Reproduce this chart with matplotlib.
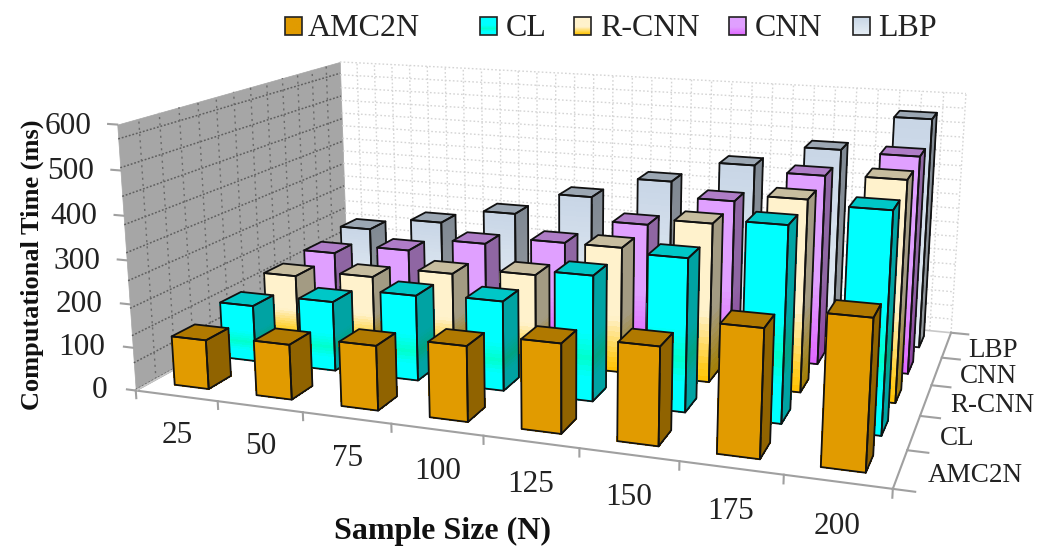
import numpy as np
import matplotlib
matplotlib.use("Agg")
import matplotlib.pyplot as plt
from matplotlib.colors import LinearSegmentedColormap, to_rgb
from matplotlib.patches import Rectangle
from mpl_toolkits.mplot3d import proj3d
from mpl_toolkits.mplot3d.art3d import Poly3DCollection

plt.rcParams['font.family'] = ['Liberation Serif', 'DejaVu Serif']

# ================= data =================
sample_sizes = ['25', '50', '75', '100', '125', '150', '175', '200']
methods = ['AMC2N', 'CL', 'R-CNN', 'CNN', 'LBP']
amc2n = [114, 126, 146, 168, 196, 212, 272, 314]
cl = [135, 165, 200, 207, 285, 342, 430, 477]
rcnn = [153, 170, 197, 213, 296, 369, 439, 497]
cnn = [160, 185, 220, 240, 302, 375, 450, 508]
lbp = [175, 210, 250, 310, 365, 420, 472, 558]
values = [amc2n, cl, rcnn, cnn, lbp]
z_ticks = [0, 100, 200, 300, 400, 500, 600]

# gradients run from the foot of the bar (0) to its top (1)
gradients = [
    [(0, '#E19B00'), (1, '#E19B00')],
    [(0, '#00FFFF'), (0.2, '#00FFFF'), (0.35, '#00FFCC'), (0.55, '#00FFFF'), (1, '#00FFFF')],
    [(0, '#FFC000'), (0.1, '#FFCC20'), (0.45, '#FFF2CC'), (1, '#FFF2CC')],
    [(0, '#E066FF'), (0.45, '#E0A0FF'), (1, '#E0A0FF')],
    [(0, '#E6EEF5'), (1, '#C8D6E6')],
]
cmaps = [LinearSegmentedColormap.from_list(m, g) for m, g in zip(methods, gradients)]

W, H = 1047, 546
S = 700.0
BAR_W, BAR_D = 0.42, 0.46
N_STRIPS = 24


def shade(rgb, k):
    return tuple(c * k for c in to_rgb(rgb))


def add_poly(ax, verts, fc, ec, lw, order, smooth=True):
    coll = Poly3DCollection(verts, facecolors=fc, edgecolors=ec, linewidths=lw, zorder=order,
                            antialiaseds=smooth)
    ax.add_collection3d(coll, autolim=False)
    coll.set_clip_on(False)


def add_bar(ax, x0, y0, h, cmap, order):
    x1, y1 = x0 + BAR_W, y0 + BAR_D
    zs = np.linspace(0, h, N_STRIPS + 1)
    fronts, sides, fc, sc = [], [], [], []
    for i in range(N_STRIPS):
        z0, z1 = zs[i], zs[i + 1]
        col = cmap((i + 0.5) / N_STRIPS)[:3]
        fronts.append([(x0, y0, z0), (x1, y0, z0), (x1, y0, z1), (x0, y0, z1)])
        sides.append([(x1, y0, z0), (x1, y1, z0), (x1, y1, z1), (x1, y0, z1)])
        fc.append(col)
        sc.append(shade(col, 0.64))
    top = [(x0, y0, h), (x1, y0, h), (x1, y1, h), (x0, y1, h)]
    # strips are left aliased so no seams show between them
    add_poly(ax, sides, sc, sc, 0.4, order, smooth=False)
    add_poly(ax, fronts, fc, fc, 0.4, order + 0.1, smooth=False)
    add_poly(ax, [top], [shade(cmap(1.0), 0.78)], 'none', 0, order + 0.2)
    # outline of the three visible faces
    outline = [[(x0, y0, 0), (x1, y0, 0), (x1, y0, h), (x0, y0, h)],
               [(x1, y0, 0), (x1, y1, 0), (x1, y1, h), (x1, y0, h)], top]
    add_poly(ax, outline, (0, 0, 0, 0), '#111111', 1.3, order + 0.3)


def line3d(ax, xs, ys, zs, **kw):
    ax.plot(xs, ys, zs, clip_on=False, **kw)


def label3d(ax, x, y, z, s, **kw):
    # plain 2D text anchored at the projected point
    px, py, _ = proj3d.proj_transform(x, y, z, ax.get_proj())
    ax.text2D(px, py, s, transform=ax.transData, zorder=60, **kw)


fig = plt.figure(figsize=(W / 100, H / 100), dpi=100)
ax = fig.add_axes([(556.573 - S / 2) / W, 1 - (246.068 + S / 2) / H, S / W, S / H], projection='3d')
ax.computed_zorder = False
ax.set_xlim(0, 8, view_margin=0)
ax.set_ylim(0, 5, view_margin=0)
ax.set_zlim(0, 600, view_margin=0)
ax.view_init(14.1168, -70.8002, -0.0177)
ax.set_proj_type('persp', focal_length=0.4192)
ax.set_box_aspect((1, 0.6192, 0.3595), zoom=1.2317)
ax.set_axis_off()
ax.apply_aspect()

# --- walls and their dotted grids ---
left_wall = [(0, 0, 0), (0, 5, 0), (0, 5, 600), (0, 0, 600)]
add_poly(ax, [left_wall], '#A6A6A6', '#A6A6A6', 0.5, 1)
for z in np.arange(569, 0, -63):
    line3d(ax, [0, 0], [0, 5], [z, z], color='#5F5F5F', lw=1.1, ls=(0, (1.2, 1.2)), zorder=2)
for y in np.linspace(0, 5, 14)[1:-1]:
    line3d(ax, [0, 0], [y, y], [0, 600], color='#6A6A6A', lw=1.0, ls=(0, (1.5, 3)), zorder=2)
for z in np.linspace(0, 600, 18)[1:]:
    line3d(ax, [0, 8], [5, 5], [z, z], color='#D4D4D4', lw=1.0, ls=(0, (1.2, 1.6)), zorder=2)
for x in np.linspace(0, 8, 33)[1:]:
    line3d(ax, [x, x], [5, 5], [0, 600], color='#D4D4D4', lw=1.0, ls=(0, (1.2, 1.6)), zorder=2)

# --- axis lines, ticks, tick labels ---
axis_col = '#A0A0A0'
text_col = '#222222'
line3d(ax, [0, 8], [0, 0], [0, 0], color=axis_col, lw=1.5, zorder=3)
line3d(ax, [8, 8], [0, 5], [0, 0], color=axis_col, lw=1.5, zorder=3)
line3d(ax, [0, 0], [0, 5], [0, 0], color='#C8C8C8', lw=1.2, zorder=3)
line3d(ax, [0, 8], [5, 5], [0, 0], color='#C8C8C8', lw=1.2, zorder=3)
for z in z_ticks:
    line3d(ax, [-0.11, 0], [0, 0], [z, z], color=axis_col, lw=1.5, zorder=3)
    label3d(ax, -0.35 + 0.04 * z / 600, 0, z, str(z), ha='right', va='center_baseline', fontsize=22.5, color=text_col)
for i in range(len(sample_sizes) + 1):
    line3d(ax, [i, i], [0, 0], [0, -18], color=axis_col, lw=1.5, zorder=3)
for i, lab in enumerate(sample_sizes):
    label3d(ax, i + 0.48 + 0.005 * i, 0, -85, lab, ha='center', va='center_baseline', fontsize=22.5, color=text_col)
for j, lab in enumerate(methods):
    line3d(ax, [8, 8.2], [j, j], [0, 0], color=axis_col, lw=1.5, zorder=3)
    label3d(ax, 8.25, j + 0.5, 0, lab, ha='left', va='center_baseline', fontsize=19.5, color=text_col)
line3d(ax, [8, 8.2], [5, 5], [0, 0], color=axis_col, lw=1.5, zorder=3)

# --- bars, back row first ---
order = 10
for j in range(len(methods) - 1, -1, -1):
    for i in range(len(sample_sizes)):
        add_bar(ax, i + 0.29, j + 0.30, values[j][i], cmaps[j], order)
        order += 1

# --- legend and axis titles, placed in figure pixels ---
over = fig.add_axes([0, 0, 1, 1], zorder=5)
over.patch.set_alpha(0)
over.axis('off')
swatch_x = [285, 480, 574, 729, 853]
text_x = [308, 506, 600, 755, 878]
for j, lab in enumerate(methods):
    grad = np.linspace(1, 0, 32).reshape(-1, 1)
    over.imshow(grad, cmap=cmaps[j], vmin=0, vmax=1, aspect='auto',
                extent=(swatch_x[j], swatch_x[j] + 17, 35, 17), zorder=2)
    over.add_patch(Rectangle((swatch_x[j], 17), 17, 18, fill=False, ec=text_col, lw=1.2, zorder=3))
    over.text(text_x[j], 25, lab, ha='left', va='center_baseline', fontsize=23, color=text_col)
over.text(443, 528, 'Sample Size (N)', ha='center', va='center_baseline', fontsize=23, fontweight='bold',
          color='#111111')
over.text(32, 265, 'Computational Time (ms)', ha='center', va='center', rotation=90, fontsize=19,
          fontweight='bold', color='#111111')
over.set_xlim(0, W)
over.set_ylim(H, 0)

fig.savefig('out.png', dpi=100)
